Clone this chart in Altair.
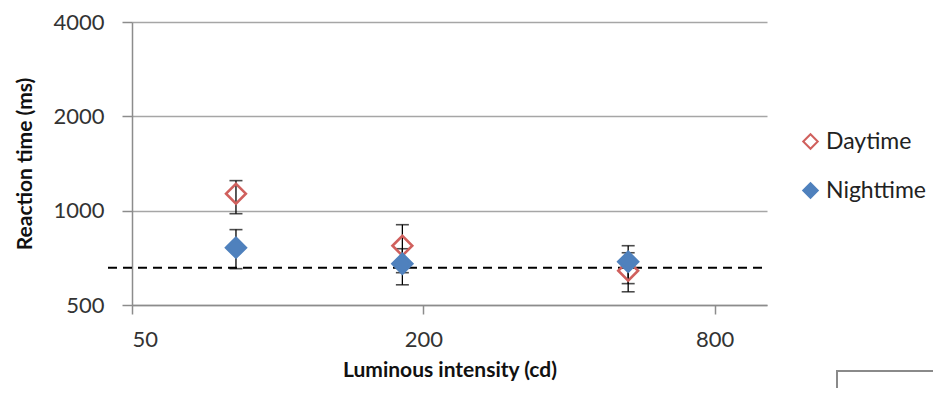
import altair as alt
import pandas as pd

# ---- data ----
series = ["Daytime", "Nighttime"]
intensity = [82, 181, 530]
day_rt = [1133, 773, 643]
day_lo = [978, 634, 551]
day_hi = [1247, 902, 734]
night_rt = [762, 677, 687]
night_lo = [653, 580, 585]
night_hi = [870, 756, 773]
baseline_rt = [658]
x_ticks = [50, 200, 800]
y_ticks = [500, 1000, 2000, 4000]

rows = []
for s, m, lo, hi in [("Daytime", day_rt, day_lo, day_hi),
                     ("Nighttime", night_rt, night_lo, night_hi)]:
    for x, a, b, c in zip(intensity, m, lo, hi):
        rows.append(dict(series=s, intensity=x, rt=a, lo=b, hi=c))
df = pd.DataFrame(rows)
base_df = pd.DataFrame({"rt": baseline_rt})

W, H = 635, 283
FONT = "Lato"
GRAY = "#8c8c8c"

xscale = alt.Scale(type="log", domain=[50, 1026], nice=False)
yscale = alt.Scale(type="log", base=2, domain=[500, 4000], nice=False)

xaxis = alt.Axis(values=x_ticks, format="d", title="Luminous intensity (cd)", grid=False,
                 tickSize=9, labelPadding=15, titlePadding=9,
                 labelFontSize=22, titleFontSize=21)
yaxis = alt.Axis(values=y_ticks, format="d", title="Reaction time (ms)", grid=True,
                 tickSize=10, labelPadding=18, titlePadding=17,
                 labelFontSize=22, titleFontSize=21)

X = alt.X("intensity:Q", scale=xscale, axis=xaxis)
Y_lo = alt.Y("lo:Q", scale=yscale, axis=yaxis)
base = alt.Chart(df)

err = base.mark_rule(color="black", strokeWidth=1.3).encode(x=X, y=Y_lo, y2="hi:Q")
cap_lo = base.mark_tick(orient="horizontal", size=13, thickness=1.6, color="black").encode(
    x=X, y=Y_lo)
cap_hi = base.mark_tick(orient="horizontal", size=13, thickness=1.6, color="black").encode(
    x=X, y=alt.Y("hi:Q", scale=yscale, axis=yaxis))

leg = dict(orient="none", legendX=667, legendY=108, title=None,
           symbolType="diamond", symbolSize=210, symbolStrokeWidth=2,
           labelFontSize=23, labelFont=FONT, labelColor="#222",
           rowPadding=25, labelOffset=4)

pts = base.mark_point(shape="diamond", size=390, strokeWidth=2.6, opacity=1,
                      filled=False).encode(
    x=X, y=alt.Y("rt:Q", scale=yscale, axis=yaxis),
    fill=alt.Fill("series:N", scale=alt.Scale(domain=series, range=["transparent", "#4F81BD"]),
                  legend=alt.Legend(**leg)),
    stroke=alt.Stroke("series:N", scale=alt.Scale(domain=series, range=["#D0605D", "#4F81BD"]),
                      legend=alt.Legend(**leg)),
    order=alt.Order("series:N"),
)

ref = alt.Chart(base_df).mark_rule(color="black", strokeDash=[9, 6], strokeWidth=2).encode(
    y=alt.Y("rt:Q", scale=yscale, axis=yaxis), x=alt.value(-24), x2=alt.value(W))

box = alt.Chart(pd.DataFrame({"k": [0]})).mark_rect(
    filled=False, stroke="#8a8a8a", strokeWidth=2).encode(
    x=alt.value(705), x2=alt.value(850), y=alt.value(349), y2=alt.value(420))

chart = alt.layer(ref, err, cap_lo, cap_hi, pts, box).properties(
    width=W, height=H, background="white",
    autosize=alt.AutoSizeParams(type="none"),
    padding={"left": 124, "top": 14, "right": 166, "bottom": 83},
).configure_view(stroke=None).configure_axis(
    labelFont=FONT, titleFont=FONT, titleFontWeight="bold",
    labelColor="#333", titleColor="#111",
    domainColor=GRAY, tickColor=GRAY, gridColor="#a6a6a6",
    domainWidth=1.5, tickWidth=1.5, gridWidth=1.5,
)

chart.save("out.html", embed_options={"renderer": "svg", "actions": False})
